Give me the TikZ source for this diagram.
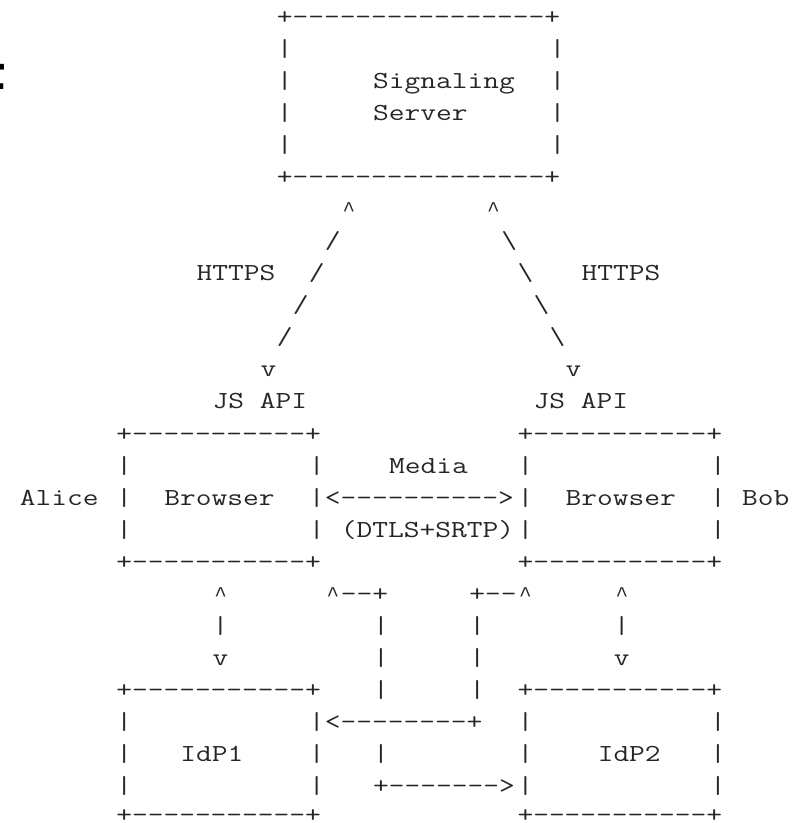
\documentclass[tikz,border=0pt]{standalone}
\usepackage{fontspec}
\newfontfamily\asciifont[FakeStretch=1.248]{lmmono12-regular.otf}
\newfontfamily\caretfont{Liberation Mono}
\newfontfamily\headfont{DejaVu Sans}
\tikzset{
  ascii/.style={font=\asciifont\fontsize{12.25pt}{14pt}\selectfont, text=black!85,
    anchor=base west, inner sep=0pt, outer sep=0pt},
  caret/.style={ascii, anchor=base, font=\caretfont\fontsize{10.5pt}{12pt}\selectfont},
  lastrow/.style={ascii, text depth=0pt},
}
\begin{document}
\begin{tikzpicture}[x=8.025pt, y=-16.035pt]
\useasboundingbox (-1.2445,0.2485) rectangle (48.475,25.912);
\node[anchor=base east, inner sep=0pt, font=\headfont\bfseries\fontsize{23pt}{26pt}\selectfont] (cut) at (-0.87,3.03) {t};

% signaling server
\node[ascii] (srvtop) at (16,1) {+----------------+};
\foreach \r in {2,...,5} {
  \node[ascii] (srvl\r) at (16,\r) {|};
  \node[ascii] (srvr\r) at (33,\r) {|};
}
\node[ascii] (srvname) at (22,3) {Signaling};
\node[ascii] (srvname2) at (22,4) {Server};
\node[ascii] (srvbot) at (16,6) {+----------------+};

% https legs
\node[caret] (upL) at (20.5,7) {\textasciicircum};
\node[caret] (upR) at (29.5,7) {\textasciicircum};
\foreach \r/\cl/\cr in {8/19/30, 9/18/31, 10/17/32, 11/16/33} {
  \node[ascii] (slashL\r) at (\cl,\r) {/};
  \node[ascii] (slashR\r) at (\cr,\r) {\textbackslash};
}
\node[ascii] (httpsL) at (11,9) {HTTPS};
\node[ascii] (httpsR) at (35,9) {HTTPS};
\node[ascii] (downL) at (15,12) {v};
\node[ascii] (downR) at (34,12) {v};
\node[ascii] (apiL) at (12,13) {JS API};
\node[ascii] (apiR) at (32,13) {JS API};

% browsers
\node[ascii] (brwLtop) at (6,14) {+-----------+};
\node[ascii] (brwRtop) at (31,14) {+-----------+};
\foreach \r in {15,16,17} {
  \node[ascii] (brwLl\r) at (6,\r) {|};
  \node[ascii] (brwLr\r) at (18,\r) {|};
  \node[ascii] (brwRl\r) at (31,\r) {|};
  \node[ascii] (brwRr\r) at (43,\r) {|};
}
\node[ascii] (alice) at (0,16) {Alice};
\node[ascii] (brwL) at (9,16) {Browser};
\node[ascii] (brwR) at (34,16) {Browser};
\node[ascii] (bob) at (45,16) {Bob};
\node[ascii] (media) at (23,15) {Media};
\node[ascii] (mediaarr) at (19,16) {<---------->};
\node[ascii] (dtls) at (20,17) {(DTLS+SRTP)};
\node[ascii] (brwLbot) at (6,18) {+-----------+};
\node[ascii] (brwRbot) at (31,18) {+-----------+};

% idp links
\node[caret] (upA) at (12.5,19) {\textasciicircum};
\node[caret] (upB) at (19.5,19) {\textasciicircum};
\node[ascii] (upBtail) at (20,19) {--+};
\node[ascii] (upCtail) at (28,19) {+--};
\node[caret] (upC) at (31.5,19) {\textasciicircum};
\node[caret] (upD) at (37.5,19) {\textasciicircum};
\foreach \c in {12,22,28,37}
  \node[ascii] (bar20x\c) at (\c,20) {|};
\node[ascii] (downA) at (12,21) {v};
\node[ascii] (bar21x22) at (22,21) {|};
\node[ascii] (bar21x28) at (28,21) {|};
\node[ascii] (downD) at (37,21) {v};
\node[ascii] (bar22x22) at (22,22) {|};
\node[ascii] (bar22x28) at (28,22) {|};
\node[ascii] (bar24x22) at (22,24) {|};
\node[ascii] (backarr) at (19,23) {<--------+};
\node[ascii] (fwdarr) at (22,25) {+------->};

% identity providers
\node[ascii] (idpLtop) at (6,22) {+-----------+};
\node[ascii] (idpRtop) at (31,22) {+-----------+};
\foreach \r in {23,24,25} {
  \node[ascii] (idpLl\r) at (6,\r) {|};
  \node[ascii] (idpLr\r) at (18,\r) {|};
  \node[ascii] (idpRl\r) at (31,\r) {|};
  \node[ascii] (idpRr\r) at (43,\r) {|};
}
\node[ascii] (idp1) at (10,24) {IdP1};
\node[ascii] (idp2) at (36,24) {IdP2};
\node[lastrow] (idpLbot) at (6,25.9) {+-----------+};
\node[lastrow] (idpRbot) at (31,25.9) {+-----------+};
\end{tikzpicture}
\end{document}
